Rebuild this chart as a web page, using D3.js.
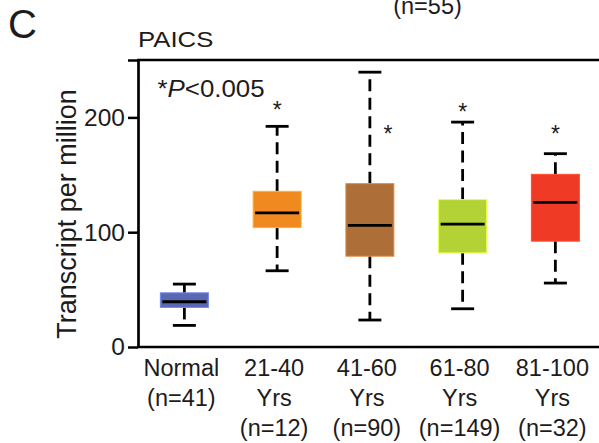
<!DOCTYPE html>
<head>
    <meta charset='utf-8'>
    <title>PAICS</title>
    <script src='https://d3js.org/d3.v7.min.js'></script>
    <style>
        html, body {
            margin: 0px;
            padding: 0px;
            background: white;
        }
        svg text {
            font-family: 'Liberation Sans', Arial, sans-serif;
            fill: #1e1b1c;
        }
    </style>
</head>
<body>
    <div id='chart'></div>
    <script>
        // values (transcripts per million)
        var groups = ['Normal', '21-40', '41-60', '61-80', '81-100'];
        var labelLines = [['Normal', '(n=41)'], ['21-40', 'Yrs', '(n=12)'], ['41-60', 'Yrs', '(n=90)'], ['61-80', 'Yrs', '(n=149)'], ['81-100', 'Yrs', '(n=32)']];
        var whiskerLow = [18.8, 66.4, 23.5, 33.3, 55.7];
        var q1 = [34.5, 104, 79.1, 82, 92.2];
        var medians = [39.4, 116.8, 106, 107, 126];
        var q3 = [47.2, 135.6, 142.3, 128.4, 150.4];
        var whiskerHigh = [54.8, 192.2, 239.4, 195.9, 168.4];
        var starLevel = [null, 210.4, 189.6, 208.7, 189.6];
        var colors = ['#5a68b3', '#f08a20', '#ad6f37', '#b3d235', '#ef3b25'];
        var yTicks = [0, 100, 200, 250];

        var width = 599, height = 443;

        var svg = d3.select('#chart').append('svg')
            .attr('width', width)
            .attr('height', height);

        var x = d3.scalePoint()
            .domain(groups)
            .range([138, 601.75])
            .padding(0.5);

        var y = d3.scaleLinear()
            .domain([0, 250])
            .range([347, 60]);

        var boxW = 48, capW = 23;

        // y axis
        var yAxis = svg.append('g')
            .attr('transform', 'translate(138,0)')
            .call(d3.axisLeft(y).tickValues(yTicks).tickSize(10).tickSizeOuter(0)
                .tickFormat(function(d) { return d == 250 ? '' : d; }));
        yAxis.select('.domain').attr('stroke', '#000').attr('stroke-width', 2.7);
        yAxis.selectAll('.tick line').attr('stroke', '#000').attr('stroke-width', 2.5);
        yAxis.selectAll('.tick text')
            .style('font-size', '24.5px')
            .attr('x', -13)
            .attr('fill', '#1e1b1c');

        // x axis line and top border
        svg.append('line')
            .attr('x1', 137).attr('x2', width)
            .attr('y1', y(0)).attr('y2', y(0))
            .attr('stroke', '#000').attr('stroke-width', 2.7);
        svg.append('line')
            .attr('x1', 137).attr('x2', width)
            .attr('y1', y(250)).attr('y2', y(250))
            .attr('stroke', '#000').attr('stroke-width', 2.7);

        var box = svg.selectAll('.box')
            .data(groups)
            .enter()
            .append('g')
            .attr('class', 'box');

        // whiskers, dashed, going out from the box
        box.append('line')
            .attr('x1', function(d) { return x(d); })
            .attr('x2', function(d) { return x(d); })
            .attr('y1', function(d, i) { return y(q3[i]); })
            .attr('y2', function(d, i) { return y(whiskerHigh[i]); })
            .attr('stroke', '#000').attr('stroke-width', 2.8)
            .attr('stroke-dasharray', '12,6.5');
        box.append('line')
            .attr('x1', function(d) { return x(d); })
            .attr('x2', function(d) { return x(d); })
            .attr('y1', function(d, i) { return y(q1[i]); })
            .attr('y2', function(d, i) { return y(whiskerLow[i]); })
            .attr('stroke', '#000').attr('stroke-width', 2.8)
            .attr('stroke-dasharray', '12,6.5');

        // caps
        box.append('line')
            .attr('x1', function(d) { return x(d) - capW / 2; })
            .attr('x2', function(d) { return x(d) + capW / 2; })
            .attr('y1', function(d, i) { return y(whiskerHigh[i]); })
            .attr('y2', function(d, i) { return y(whiskerHigh[i]); })
            .attr('stroke', '#000').attr('stroke-width', 2.8);
        box.append('line')
            .attr('x1', function(d) { return x(d) - capW / 2; })
            .attr('x2', function(d) { return x(d) + capW / 2; })
            .attr('y1', function(d, i) { return y(whiskerLow[i]); })
            .attr('y2', function(d, i) { return y(whiskerLow[i]); })
            .attr('stroke', '#000').attr('stroke-width', 2.8);

        box.append('rect')
            .attr('x', function(d) { return x(d) - boxW / 2; })
            .attr('width', boxW)
            .attr('y', function(d, i) { return y(q3[i]); })
            .attr('height', function(d, i) { return y(q1[i]) - y(q3[i]); })
            .attr('fill', function(d, i) { return colors[i]; })
            .attr('stroke', function(d, i) { return d3.color(colors[i]).brighter(0.7); })
            .attr('stroke-width', 1);

        box.append('line')
            .attr('x1', function(d) { return x(d) - boxW / 2 + 2; })
            .attr('x2', function(d) { return x(d) + boxW / 2 - 2; })
            .attr('y1', function(d, i) { return y(medians[i]); })
            .attr('y2', function(d, i) { return y(medians[i]); })
            .attr('stroke', '#000').attr('stroke-width', 2.8);

        // significance stars; moved to the side when they would sit on the whisker
        box.filter(function(d, i) { return starLevel[i] != null; })
            .append('text')
            .attr('x', function(d) {
                var i = groups.indexOf(d);
                return starLevel[i] < whiskerHigh[i] ? x(d) + 18 : x(d);
            })
            .attr('y', function(d) { return y(starLevel[groups.indexOf(d)]) + 13; })
            .attr('text-anchor', 'middle')
            .style('font-size', '23px')
            .text('*');

        // category labels
        var lab = svg.selectAll('.xlab')
            .data(groups)
            .enter()
            .append('text')
            .attr('class', 'xlab')
            .attr('text-anchor', 'middle')
            .style('font-size', '23.5px');
        lab.selectAll('tspan')
            .data(function(d, i) { return labelLines[i]; })
            .enter()
            .append('tspan')
            .attr('x', function() { return x(d3.select(this.parentNode).datum()) - 3; })
            .attr('y', function(d, j) { return 376 + j * 30; })
            .text(function(d) { return d; });

        // y axis title
        svg.append('text')
            .attr('transform', 'translate(76,214) rotate(-90)')
            .attr('text-anchor', 'middle')
            .style('font-size', '27px')
            .text('Transcript per million');

        // gene title, p value note, panel letter
        svg.append('text')
            .attr('transform', 'translate(138,46.5) scale(1.12,1)')
            .style('font-size', '23px')
            .text('PAICS');

        var pNote = svg.append('text')
            .attr('transform', 'translate(157.5,97.3) scale(1.1,1)')
            .style('font-size', '23.5px');
        pNote.append('tspan').text('*');
        pNote.append('tspan').style('font-style', 'italic').text('P');
        pNote.append('tspan').text('<0.005');

        svg.append('text')
            .attr('x', 8)
            .attr('y', 37.5)
            .style('font-size', '40px')
            .text('C');

        svg.append('text')
            .attr('x', 427.5)
            .attr('y', 14)
            .attr('text-anchor', 'middle')
            .style('font-size', '23.5px')
            .text('(n=55)');
    </script>
</body>
